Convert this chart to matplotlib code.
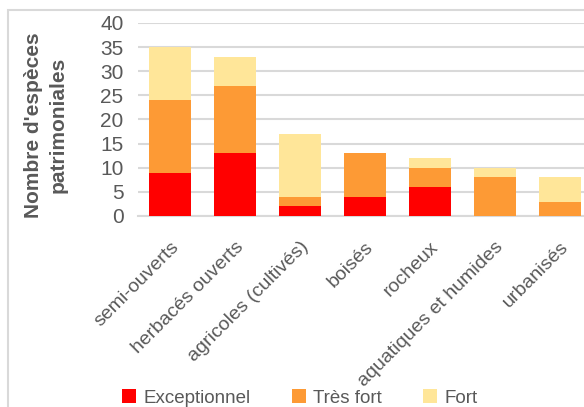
import matplotlib.pyplot as plt
from matplotlib.patches import Rectangle
import numpy as np

milieux = ["semi-ouverts", "herbacés ouverts", "agricoles (cultivés)", "boisés",
           "rocheux", "aquatiques et humides", "urbanisés"]
exceptionnel = [9, 13, 2, 4, 6, 0, 0]
tres_fort = [15, 14, 2, 9, 4, 8, 3]
fort = [11, 6, 13, 0, 2, 2, 5]

gris = "#595959"
plt.rcParams['font.family'] = ['Liberation Sans', 'DejaVu Sans']

W, H = 584, 407
fig = plt.figure(figsize=(W / 100, H / 100), dpi=100)

# cadre du graphique
fig.patches.append(Rectangle((8 / W, -0.1), 1.2, 1 - 10 / H + 0.1, transform=fig.transFigure,
                             fill=False, edgecolor="#d9d9d9", linewidth=1.5))

ax = fig.add_axes([137.5 / W, 1 - 216 / H, 455 / W, (216 - 23) / H])
x = np.arange(len(milieux))
largeur = 0.66
b1 = np.array(exceptionnel)
b2 = b1 + np.array(tres_fort)
ax.bar(x, exceptionnel, largeur, color="#ff0000", label="Exceptionnel", zorder=3)
ax.bar(x, tres_fort, largeur, bottom=b1, color="#fd9a35", label="Très fort", zorder=3)
ax.bar(x, fort, largeur, bottom=b2, color="#ffe699", label="Fort", zorder=3)

ax.set_xlim(-0.5, len(milieux) - 0.5)
ax.set_ylim(0, 40)
ax.set_yticks(range(0, 41, 5))
ax.yaxis.grid(True, color="#d9d9d9", linewidth=1.5, zorder=0)
for s in ax.spines.values():
    s.set_visible(False)
ax.spines['bottom'].set_visible(True)
ax.spines['bottom'].set_color("#d9d9d9")
ax.spines['bottom'].set_linewidth(1.5)
ax.tick_params(length=0, labelcolor=gris, labelsize=15)
ax.tick_params(axis='y', pad=10)
ax.set_xticks(x)
ax.set_xticklabels(milieux, rotation=45, ha="right", rotation_mode="anchor", fontsize=14)
ax.tick_params(axis='x', pad=16)

fig.text(46 / W, 1 - 125 / H, "Nombre d'espèces\npatrimoniales", rotation=90, ha="center",
         va="center", color=gris, fontsize=15, fontweight="bold", linespacing=1.35)

fig.legend(loc="center", bbox_to_anchor=(300 / W, 1 - 398 / H), ncol=3, frameon=False,
           fontsize=13.5, labelcolor=gris, handlelength=0.75, handleheight=0.75,
           columnspacing=2.2, handletextpad=0.4)

fig.savefig("out.png", dpi=100)
